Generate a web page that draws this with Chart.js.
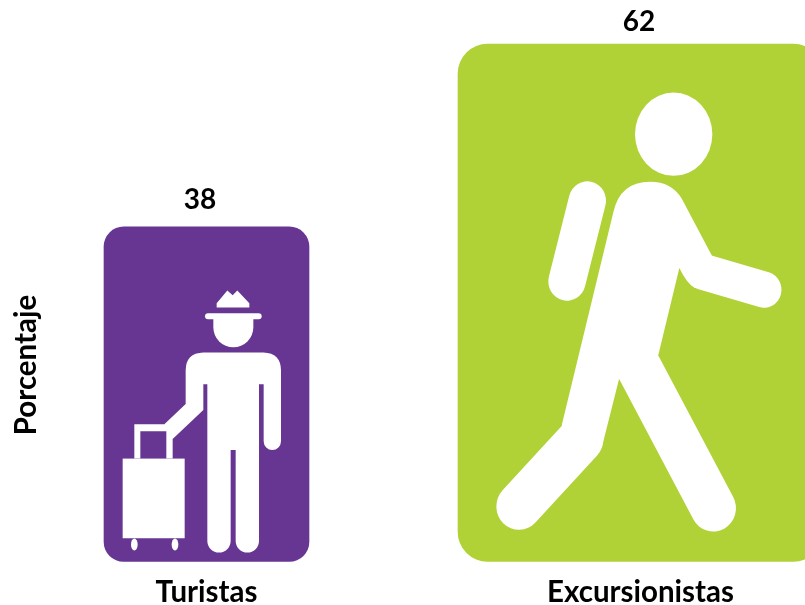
<!DOCTYPE html>
<html>
<head>
<meta charset="utf-8">
<style>html,body{margin:0;padding:0;background:#fff;overflow:hidden}canvas{display:block}</style>
<script src="https://cdn.jsdelivr.net/npm/chart.js@4/dist/chart.umd.min.js"></script>
</head>
<body>
<canvas id="c" width="805" height="605"></canvas>
<script>
const categories = ['Turistas', 'Excursionistas'];
const turistas = [38, null];
const excursionistas = [null, 62];
const yTitle = 'Porcentaje';
const FONT = 'Lato, Carlito, sans-serif';

function drawTourist(ctx) {
  ctx.beginPath();
  ctx.moveTo(350,263);ctx.lineTo(350,250);ctx.lineTo(382,212);ctx.lineTo(398,226);ctx.lineTo(412,212);ctx.lineTo(448,250);ctx.lineTo(448,263);ctx.closePath();
  ctx.fill();
  ctx.beginPath();ctx.roundRect(315,280,170,18,9);ctx.fill();
  ctx.beginPath();ctx.moveTo(340,296);ctx.lineTo(340,322);ctx.arc(400,322,60,Math.PI,0,true);ctx.lineTo(460,296);ctx.closePath();ctx.fill();
  ctx.beginPath();
  ctx.moveTo(310,398);ctx.lineTo(490,398);ctx.quadraticCurveTo(543,400,543,452);
  ctx.lineTo(543,664);ctx.arc(517,664,26,0,Math.PI);
  ctx.lineTo(491,493);ctx.lineTo(477,493);ctx.lineTo(477,963);ctx.arc(442,963,35,0,Math.PI);
  ctx.lineTo(407,690);ctx.lineTo(392,690);ctx.lineTo(392,963);ctx.arc(357,963,35,0,Math.PI);
  ctx.lineTo(322,493);ctx.lineTo(310,493);ctx.lineTo(310,570);ctx.lineTo(218,657);ctx.lineTo(193,613);ctx.lineTo(257,552);
  ctx.lineTo(257,452);ctx.quadraticCurveTo(257,400,310,398);ctx.closePath();ctx.fill();
  ctx.beginPath();ctx.rect(103,613,115,103);ctx.rect(121,634,78,82);ctx.fill('evenodd');
  ctx.fillRect(68,716,186,239);
  ctx.beginPath();ctx.ellipse(103,974,10,18,0,0,Math.PI*2);ctx.fill();
  ctx.beginPath();ctx.ellipse(225,974,10,18,0,0,Math.PI*2);ctx.fill();
}
function strokeLimb(ctx,w,x1,y1,x2,y2){
  ctx.lineWidth=w;ctx.lineCap='round';ctx.strokeStyle='#fff';
  ctx.beginPath();ctx.moveTo(x1,y1);ctx.lineTo(x2,y2);ctx.stroke();
}
function drawWalker(ctx) {
  ctx.beginPath();ctx.ellipse(671,303,116,121,0,0,Math.PI*2);ctx.fill();
  strokeLimb(ctx,112,412,496,351,731);
  ctx.beginPath();
  ctx.moveTo(490,530);ctx.quadraticCurveTo(510,441,600,441);ctx.quadraticCurveTo(665,441,695,490);
  ctx.lineTo(785,655);ctx.lineTo(800,700);ctx.lineTo(735,750);ctx.quadraticCurveTo(712,740,688,692);
  ctx.lineTo(625,945);ctx.lineTo(507,1015);ctx.lineTo(455,1215);ctx.lineTo(335,1150);ctx.closePath();ctx.fill();
  strokeLimb(ctx,105,760,703,942,755);
  strokeLimb(ctx,136,566,980,790,1390);
  strokeLimb(ctx,136,392,1190,207,1385);
}

const iconPlugin = {
  id: 'icons',
  afterDatasetsDraw(chart) {
    const ctx = chart.ctx;
    const specs = [
      {dataset:0, index:0, draw:drawTourist, dx:-4, dy:-7, sy:1/3, labelDx:-6.5, labelDy:18},
      {dataset:1, index:1, draw:drawWalker, dx:-8, dy:-14, sy:0.344, labelDx:-1.5, labelDy:13}
    ];
    specs.forEach(s => {
      const bar = chart.getDatasetMeta(s.dataset).data[s.index];
      const left = bar.x - bar.width/2, top = bar.y;
      ctx.save();
      ctx.translate(left+s.dx, top+s.dy);
      ctx.scale(1/3,s.sy);
      ctx.fillStyle='#fff';
      s.draw(ctx);
      ctx.restore();
      ctx.save();
      ctx.fillStyle='#000';
      ctx.font='bold 28px '+FONT;
      ctx.textAlign='center';ctx.textBaseline='alphabetic';
      const v = chart.data.datasets[s.dataset].data[s.index];
      ctx.fillText(String(v), bar.x+s.labelDx, top-s.labelDy);
      ctx.restore();
    });
    ctx.save();
    ctx.translate(26,365);ctx.rotate(-Math.PI/2);
    ctx.fillStyle='#000';ctx.font='bold 29.5px '+FONT;
    ctx.textAlign='center';ctx.textBaseline='middle';
    ctx.fillText(yTitle,0,0);
    ctx.restore();
  }
};

const yBase = -5.9;
new Chart(document.getElementById('c'), {
  type: 'bar',
  data: {
    labels: categories,
    datasets: [
      {label:'Turistas', data:turistas, backgroundColor:'#673692', barThickness:205, borderRadius:20, borderSkipped:false, grouped:false, base:yBase, clip:false},
      {label:'Excursionistas', data:excursionistas, backgroundColor:'#B0D236', barThickness:365, borderRadius:30, borderSkipped:false, grouped:false, base:yBase, clip:false}
    ]
  },
  options: {
    responsive:false, animation:false,
    layout:{padding:{left:206.5,right:164.5,top:44,bottom:-10}},
    plugins:{legend:{display:false},tooltip:{enabled:false},title:{display:false}},
    scales:{
      x:{offset:false,grid:{display:false},border:{display:false},
         ticks:{color:'#000',font:{family:FONT,size:29.5,weight:'bold',lineHeight:1.0},maxRotation:0,autoSkip:false,padding:8}},
      y:{display:false,min:yBase,max:62}
    }
  },
  plugins:[iconPlugin]
});
</script>
</body>
</html>
